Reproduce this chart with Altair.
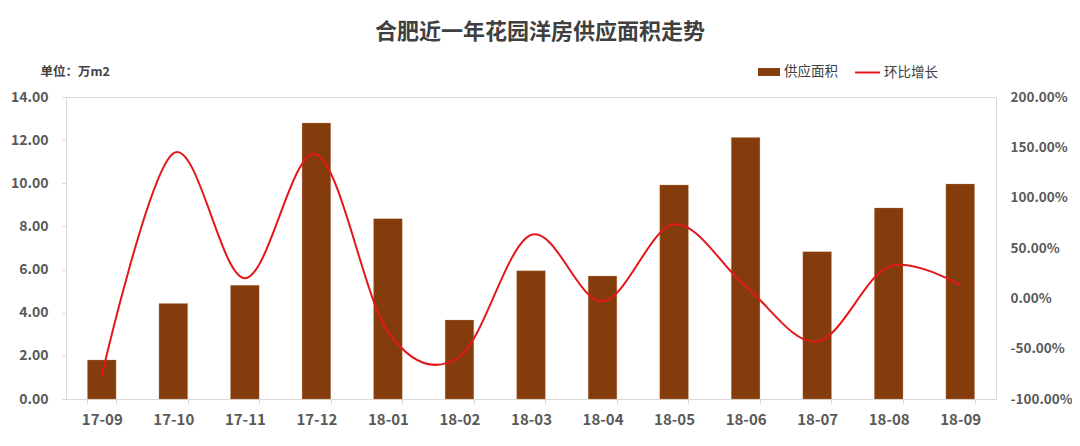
import altair as alt
import pandas as pd

months = ["17-09", "17-10", "17-11", "17-12", "18-01", "18-02", "18-03",
          "18-04", "18-05", "18-06", "18-07", "18-08", "18-09"]
area = [1.81, 4.43, 5.27, 12.79, 8.36, 3.66, 5.94, 5.70, 9.92, 12.12, 6.83, 8.86, 9.97]
growth = [-0.77, 1.44, 0.20, 1.43, -0.33, -0.58, 0.63, -0.03, 0.735, 0.12, -0.43, 0.315, 0.13]
area_ticks = [0, 2, 4, 6, 8, 10, 12, 14]
growth_ticks = [-1.0, -0.5, 0.0, 0.5, 1.0, 1.5, 2.0]

df = pd.DataFrame({"month": months, "area": area, "growth": growth,
                   "s1": "供应面积", "s2": "环比增长"})

FONT = "Noto Sans CJK SC"
GRAY = "#D9D9D9"
TXT = "#595959"

x = alt.X("month:N", sort=months,
          scale=alt.Scale(paddingInner=0.6, paddingOuter=0.3),
          axis=alt.Axis(title=None, labelAngle=0, tickBand="extent",
                        labelFont=FONT, labelFontSize=15, labelFontWeight="bold",
                        labelColor=TXT, labelPadding=8, tickSize=5, tickColor=GRAY,
                        domainColor=GRAY, grid=False))

bars = alt.Chart(df).mark_bar(stroke="#C98C5E", strokeWidth=0.5, strokeOpacity=0.6).encode(
    x=x,
    y=alt.Y("area:Q", scale=alt.Scale(domain=[0, 14], nice=False),
            axis=alt.Axis(values=area_ticks, format=".2f", grid=False,
                          title="单位：万m2", titleAngle=0, titleX=-26, titleY=-26,
                          titleAlign="left", titleBaseline="middle",
                          titleFont=FONT, titleFontSize=12.5, titleFontWeight="bold",
                          titleColor="#404040",
                          labelFont=FONT, labelFontSize=14, labelFontWeight="bold",
                          labelColor=TXT, labelPadding=14, tickSize=4, tickColor=GRAY,
                          domainColor=GRAY)),
    color=alt.Color("s1:N", scale=alt.Scale(domain=["供应面积"], range=["#843C0C"]),
                    legend=alt.Legend(title=None, orient="none", legendX=692, legendY=-36,
                                      padding=0, symbolType="M-1,-0.36L1,-0.36L1,0.36L-1,0.36Z",
                                      symbolSize=484, symbolStrokeWidth=0, symbolOpacity=1,
                                      labelFont=FONT, labelFontSize=13.5, labelColor="#404040",
                                      labelOffset=4)),
)

line = alt.Chart(df).mark_line(interpolate="cardinal", strokeWidth=2).encode(
    x=x,
    y=alt.Y("growth:Q", scale=alt.Scale(domain=[-1, 2], nice=False),
            axis=alt.Axis(orient="right", values=growth_ticks, grid=False, title=None,
                          labelExpr="replace(format(datum.value, '.2%'), '\u2212', '-')",
                          labelFont=FONT, labelFontSize=13.5, labelFontWeight="bold",
                          labelColor=TXT, labelPadding=14, tickSize=0,
                          domainColor=GRAY)),
    stroke=alt.Stroke("s2:N", scale=alt.Scale(domain=["环比增长"], range=["#E3171C"]),
                      legend=alt.Legend(title=None, orient="none", legendX=788, legendY=-38,
                                        padding=0, symbolType="M-1,0L1,0",
                                        symbolSize=625, symbolStrokeWidth=2,
                                        labelFont=FONT, labelFontSize=13.5, labelColor="#404040",
                                        labelOffset=3)),
)

chart = alt.layer(bars, line).resolve_scale(y="independent").properties(
    width=930, height=302,
    autosize=alt.AutoSizeParams(type="none"),
    padding={"left": 58, "top": 89, "right": 76, "bottom": 39},
    title=alt.TitleParams(text="合肥近一年花园洋房供应面积走势", font=FONT, fontSize=22,
                          fontWeight="bold", color="#404040", anchor="middle",
                          frame="group", offset=15, dx=9),
).configure_view(strokeWidth=0).configure(background="white")

chart.save("out.html", embed_options={"renderer": "svg", "actions": False})
